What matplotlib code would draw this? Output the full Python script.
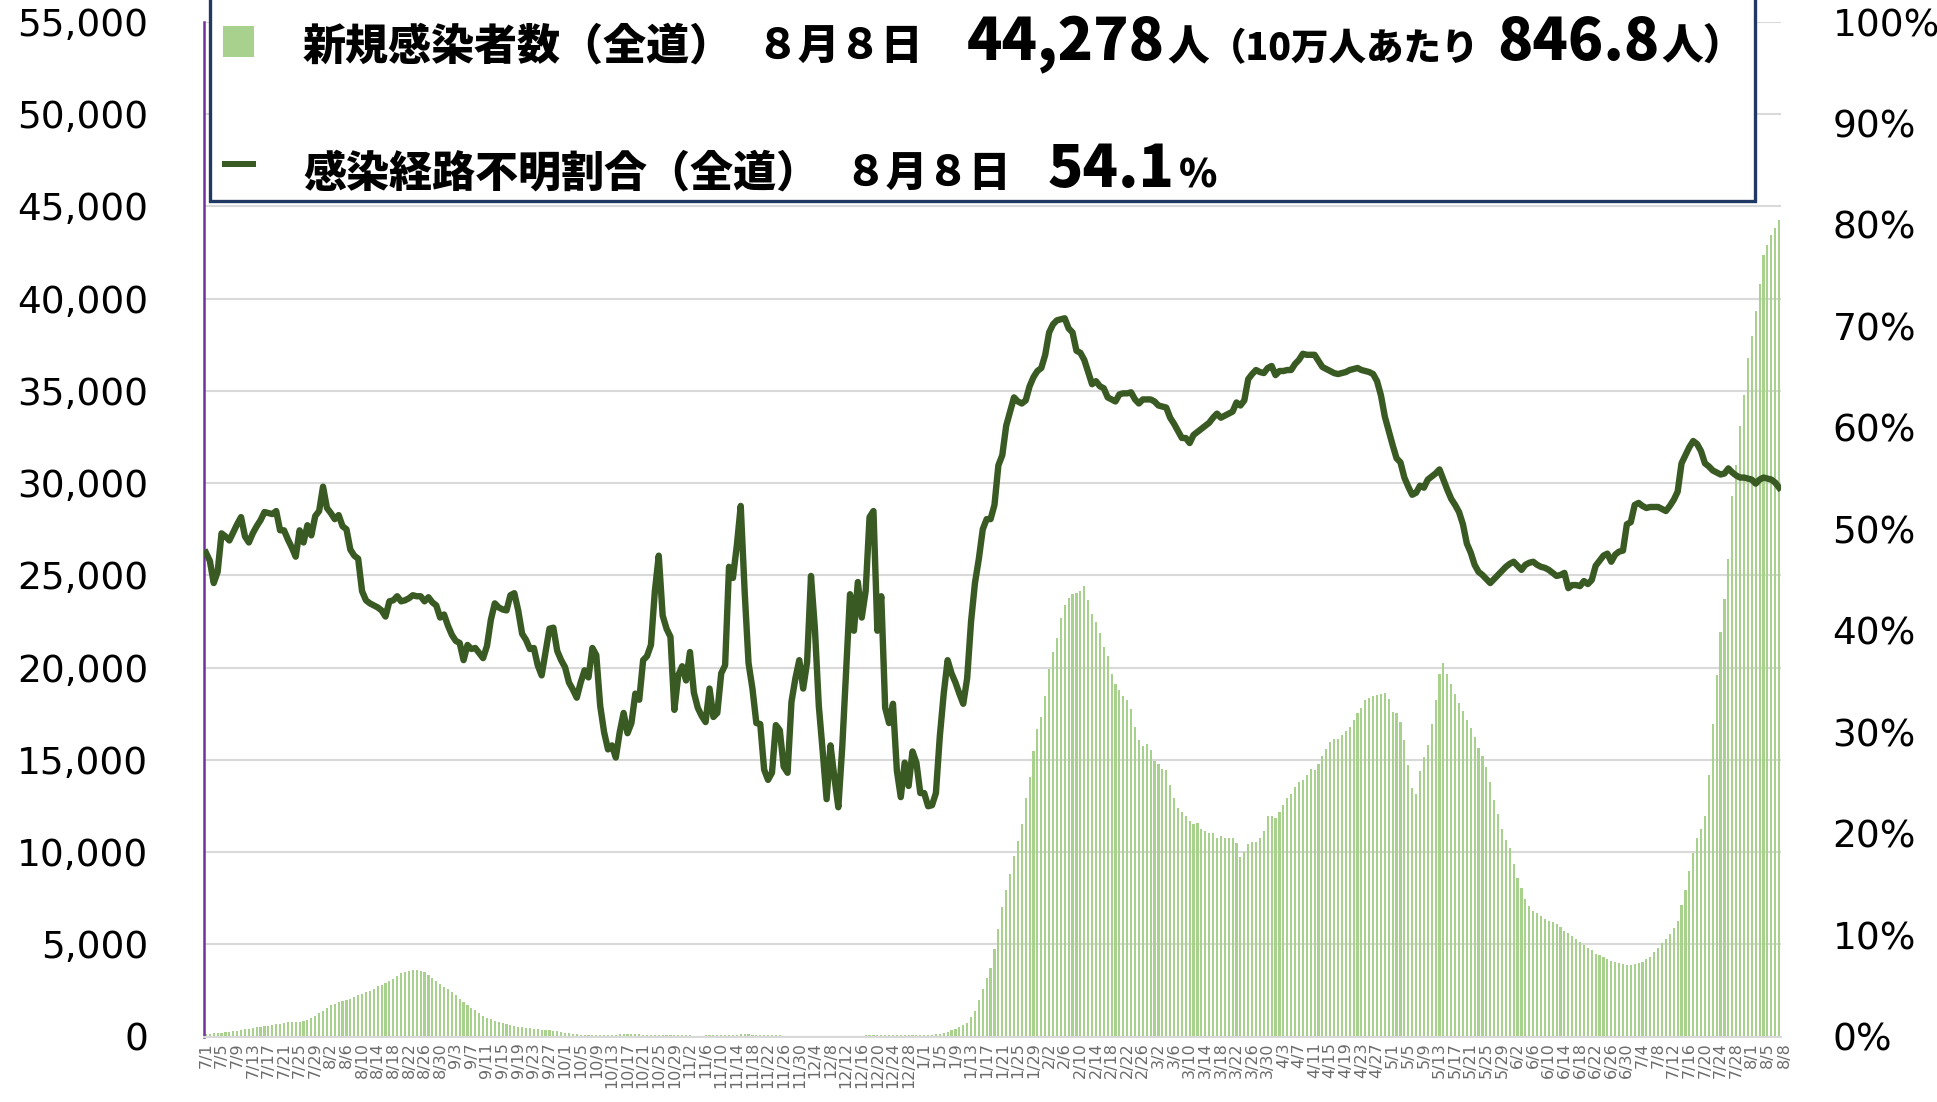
import numpy as np
import pandas as pd
import matplotlib
matplotlib.use("Agg")
import matplotlib.pyplot as plt
import matplotlib.transforms as mtrans
from matplotlib.patches import Rectangle
from matplotlib.ticker import FuncFormatter

plt.rcParams['font.family'] = ['DejaVu Sans', 'Noto Sans CJK JP']

# daily dates 2021/7/1 - 2022/8/8
dates = pd.date_range("2021-07-01", "2022-08-08", freq="D")

# new cases (7-day total), whole Hokkaido
cases = [
    150, 160, 170, 180, 200, 220, 250, 290, 320, 350,
    390, 430, 460, 500, 530, 560, 590, 620, 660, 700,
    740, 770, 800, 800, 810, 850, 920, 1000, 1120, 1260,
    1410, 1570, 1700, 1790, 1860, 1950, 2000, 2060, 2150, 2260,
    2330, 2390, 2450, 2600, 2740, 2800, 2880, 3000, 3130, 3260,
    3420, 3520, 3580, 3610, 3600, 3580, 3500, 3350, 3180, 3000,
    2850, 2700, 2560, 2400, 2250, 2060, 1880, 1720, 1560, 1420,
    1270, 1140, 1020, 930, 850, 800, 740, 680, 620, 570,
    540, 520, 480, 460, 420, 400, 380, 360, 340, 320,
    280, 240, 200, 170, 150, 130, 110, 100, 90, 80,
    80, 80, 80, 80, 80, 100, 120, 140, 140, 140,
    130, 120, 110, 100, 90, 80, 80, 70, 70, 60,
    60, 60, 60, 60, 60, 55, 55, 55, 60, 60,
    60, 70, 80, 90, 100, 110, 110, 120, 120, 120,
    110, 110, 100, 90, 90, 80, 70, 60, 50, 50,
    40, 40, 40, 40, 35, 35, 30, 30, 30, 30,
    30, 30, 30, 30, 30, 30, 30, 40, 50, 60,
    70, 80, 80, 90, 90, 90, 100, 100, 100, 100,
    100, 100, 110, 110, 110, 110, 110, 130, 150, 210,
    270, 330, 420, 520, 620, 750, 1040, 1390, 1970, 2600,
    3150, 3700, 4755, 5820, 7020, 7950, 8825, 9810, 10610, 11540,
    12920, 14070, 15480, 16650, 17340, 18460, 19920, 20850, 21600, 22710,
    23375, 23770, 23990, 24040, 24170, 24440, 23640, 22920, 22500, 21860,
    21110, 20640, 19650, 19120, 18770, 18460, 18240, 17760, 16800, 16060,
    15740, 15870, 15530, 14940, 14780, 14520, 14460, 13610, 12920, 12390,
    12200, 11940, 11670, 11540, 11590, 11270, 11140, 11060, 11010, 10790,
    10870, 10740, 10790, 10790, 10470, 9730, 9990, 10420, 10530, 10530,
    10740, 11140, 11940, 11940, 11860, 12200, 12550, 12920, 13130, 13530,
    13800, 13930, 14200, 14520, 14460, 14780, 15210, 15580, 15980, 16140,
    16120, 16330, 16540, 16800, 17180, 17520, 17790, 18270, 18370, 18460,
    18510, 18590, 18640, 18320, 17580, 17520, 17070, 16060, 14730, 13450,
    13130, 14380, 15130, 15790, 16940, 18270, 19650, 20260, 19650, 19120,
    18590, 18060, 17660, 17180, 16730, 16250, 15670, 15210, 14600, 13800,
    12820, 12070, 11270, 10680, 10240, 9330, 8620, 8030, 7450, 7060,
    6830, 6680, 6560, 6390, 6270, 6210, 6090, 5940, 5740, 5590,
    5440, 5270, 5150, 4970, 4790, 4680, 4500, 4410, 4330, 4210,
    4120, 4030, 3970, 3910, 3860, 3880, 3940, 3970, 4060, 4210,
    4330, 4560, 4790, 5090, 5300, 5560, 5880, 6270, 7120, 7940,
    8970, 9940, 10790, 11240, 11970, 14200, 16970, 19620, 21910, 23740,
    25880, 29320, 30970, 33090, 34790, 36760, 38000, 39350, 40790, 42350,
    42910, 43440, 43820, 44278,
]

# share of cases with unknown infection route (%)
ratio = [
    47.7, 46.9, 44.7, 45.8, 49.6, 49.3, 48.9, 49.7, 50.5, 51.2,
    49.3, 48.7, 49.6, 50.3, 50.9, 51.7, 51.6, 51.5, 51.8, 49.9,
    49.9, 49.0, 48.2, 47.3, 49.9, 48.7, 50.4, 49.4, 51.3, 51.8,
    54.2, 52.1, 51.6, 51.0, 51.4, 50.3, 50.0, 48.0, 47.4, 47.1,
    43.9, 43.0, 42.7, 42.5, 42.3, 42.0, 41.4, 42.9, 43.0, 43.4,
    42.9, 43.0, 43.2, 43.5, 43.4, 43.4, 42.9, 43.3, 42.8, 42.5,
    41.3, 41.6, 40.5, 39.6, 39.0, 38.8, 37.1, 38.6, 38.2, 38.3,
    37.8, 37.3, 38.5, 41.1, 42.7, 42.3, 42.1, 42.0, 43.5, 43.7,
    42.0, 39.7, 39.1, 38.2, 38.3, 36.6, 35.6, 37.9, 40.2, 40.3,
    38.0, 37.1, 36.4, 34.9, 34.2, 33.4, 34.9, 36.1, 35.4, 38.3,
    37.6, 32.6, 30.0, 28.3, 28.7, 27.5, 30.0, 31.9, 29.9, 30.9,
    33.8, 33.2, 37.1, 37.5, 38.6, 43.9, 47.4, 41.5, 40.2, 39.4,
    32.2, 35.6, 36.5, 35.1, 37.9, 33.9, 32.4, 31.6, 31.0, 34.3,
    31.5, 31.9, 35.8, 36.6, 46.3, 45.2, 48.4, 52.3, 43.9, 36.8,
    34.3, 30.9, 30.8, 26.3, 25.3, 26.0, 30.7, 30.2, 26.6, 26.0,
    33.0, 35.3, 37.1, 34.3, 36.9, 45.4, 40.2, 32.6, 28.1, 23.4,
    28.7, 25.5, 22.6, 28.5, 36.0, 43.6, 40.0, 44.8, 41.3, 43.9,
    51.2, 51.8, 40.0, 43.4, 32.4, 30.9, 32.8, 26.2, 23.6, 27.0,
    24.7, 28.1, 27.0, 24.0, 24.0, 22.7, 22.8, 24.0, 29.6, 33.8,
    37.1, 35.8, 34.9, 33.8, 32.8, 35.3, 40.9, 44.7, 47.1, 50.0,
    51.0, 51.0, 52.4, 56.3, 57.3, 60.2, 61.6, 63.0, 62.6, 62.4,
    62.7, 64.1, 65.0, 65.6, 65.9, 67.2, 69.4, 70.2, 70.6, 70.7,
    70.8, 69.8, 69.4, 67.6, 67.4, 66.7, 65.5, 64.3, 64.6, 64.1,
    63.9, 63.0, 62.8, 62.6, 63.3, 63.4, 63.4, 63.5, 62.8, 62.4,
    62.8, 62.8, 62.8, 62.6, 62.2, 62.1, 62.0, 61.0, 60.4, 59.7,
    59.0, 59.0, 58.5, 59.3, 59.6, 59.9, 60.2, 60.5, 61.0, 61.4,
    61.0, 61.2, 61.4, 61.6, 62.5, 62.2, 62.7, 64.8, 65.3, 65.7,
    65.5, 65.4, 65.9, 66.1, 65.2, 65.6, 65.6, 65.7, 65.7, 66.3,
    66.7, 67.3, 67.2, 67.2, 67.2, 66.6, 66.0, 65.8, 65.6, 65.4,
    65.3, 65.4, 65.5, 65.7, 65.8, 65.9, 65.7, 65.6, 65.5, 65.3,
    64.6, 63.2, 61.1, 59.7, 58.3, 57.0, 56.6, 55.1, 54.2, 53.4,
    53.6, 54.3, 54.1, 54.9, 55.2, 55.5, 55.9, 54.9, 53.9, 53.0,
    52.4, 51.7, 50.5, 48.6, 47.7, 46.5, 45.8, 45.5, 45.1, 44.7,
    45.1, 45.5, 45.9, 46.3, 46.6, 46.8, 46.4, 46.0, 46.5, 46.7,
    46.8, 46.5, 46.3, 46.2, 46.0, 45.7, 45.4, 45.5, 45.7, 44.2,
    44.5, 44.5, 44.4, 44.9, 44.6, 45.0, 46.4, 46.9, 47.4, 47.6,
    46.8, 47.5, 47.8, 47.9, 50.5, 50.7, 52.4, 52.6, 52.3, 52.1,
    52.2, 52.2, 52.2, 52.0, 51.8, 52.3, 52.9, 53.7, 56.5, 57.3,
    58.1, 58.7, 58.4, 57.7, 56.5, 56.2, 55.8, 55.6, 55.4, 55.5,
    56.0, 55.6, 55.3, 55.1, 55.1, 55.0, 54.9, 54.5, 54.9, 55.1,
    55.0, 54.9, 54.6, 54.1,
]

left_ticks = list(range(0, 55001, 5000))
right_ticks = list(range(0, 101, 10))

BAR_GREEN = '#A9D18E'
LINE_GREEN = '#3A5A24'
GRID = '#D9D9D9'

x = np.arange(len(dates))
tick_pos = list(range(0, len(dates), 4))
if tick_pos[-1] != len(dates) - 1:
    tick_pos.append(len(dates) - 1)
tick_lbl = [f"{dates[i].month}/{dates[i].day}" for i in tick_pos]

fig = plt.figure(figsize=(19.37, 11.02), dpi=100)
ax = fig.add_axes([0.1053, 0.0594, 0.8142, 0.9206])

ax.bar(x, cases, width=0.55, color=BAR_GREEN, zorder=2)
ax.set_xlim(-0.5, len(dates) - 0.5)
ax.set_ylim(0, 55000)
ax.set_yticks(left_ticks)
ax.yaxis.set_major_formatter(FuncFormatter(lambda v, p: f"{int(v):,}"))
ax.yaxis.grid(True, color=GRID, lw=1.5, zorder=0)
ax.set_axisbelow(True)
ax.tick_params(axis='y', length=0, pad=40, labelsize=27)
ax.set_xticks(tick_pos)
ax.set_xticklabels(tick_lbl, rotation=90, fontsize=11.5, color='#6b6b6b')
ax.tick_params(axis='x', length=0, pad=4)
# last label (8/8) sits only 3 days after 8/5: nudge it right a little
last = ax.get_xticklabels()[-1]
last.set_transform(last.get_transform() +
                   mtrans.ScaledTranslation(5 / 100, 0, fig.dpi_scale_trans))

for s in ['top', 'right']:
    ax.spines[s].set_visible(False)
ax.spines['left'].set_color('#7030A0')
ax.spines['left'].set_linewidth(1.8)
ax.spines['bottom'].set_color(GRID)
ax.spines['bottom'].set_linewidth(1.5)

ax2 = ax.twinx()
ax2.plot(x, ratio, color=LINE_GREEN, lw=4.6, solid_joinstyle='round', zorder=3)
ax2.set_ylim(0, 100)
ax2.set_yticks(right_ticks)
ax2.set_yticklabels([f"{v}%" for v in right_ticks])
ax2.tick_params(axis='y', length=0, pad=37, labelsize=27)
for s in ax2.spines.values():
    s.set_visible(False)

# legend box with big headline numbers
W, H = 1937.0, 1102.0
fig.add_artist(Rectangle((210 / W, 1 - 201 / H), (1755 - 210) / W, 0.3,
                         transform=fig.transFigure, facecolor='white',
                         edgecolor='#1F3864', lw=2.4, zorder=10))
fig.add_artist(Rectangle((223 / W, 1 - 57 / H), 31 / W, 31 / H,
                         transform=fig.transFigure, facecolor=BAR_GREEN,
                         edgecolor='none', zorder=11))
fig.add_artist(Rectangle((222 / W, 1 - 167 / H), 34 / W, 6 / H,
                         transform=fig.transFigure, facecolor=LINE_GREEN,
                         edgecolor='none', zorder=11))

cjk = ['Noto Sans CJK JP', 'DejaVu Sans']
renderer = fig.canvas.get_renderer()


def put(px, base, s, size, gap=0):
    # draw one piece and return its right edge in pixels
    t = fig.text(px / W, base, s, fontsize=size, fontweight='black', family=cjk,
                 ha='left', va='baseline', color='black', zorder=12)
    bb = t.get_window_extent(renderer)
    return bb.x1 + gap


b1 = 1 - 60 / H
put(303, b1, "新規感染者数（全道）", 31)
put(756, b1, "８月８日", 30)
e = put(967, b1, "44,278", 42, gap=2)
e = put(e, b1, "人", 30, gap=0)
e = put(e, b1, "（10万人あたり", 27, gap=4)
e = put(max(e, 1497), b1, "846.8", 42, gap=2)
put(e, b1, "人）", 30)

b2 = 1 - 187 / H
put(303, b2, "感染経路不明割合（全道）", 31)
put(844, b2, "８月８日", 30)
e = put(1048, b2, "54.1", 42, gap=4)
put(e, b2, "%", 28)

fig.savefig("out.png", dpi=100)
